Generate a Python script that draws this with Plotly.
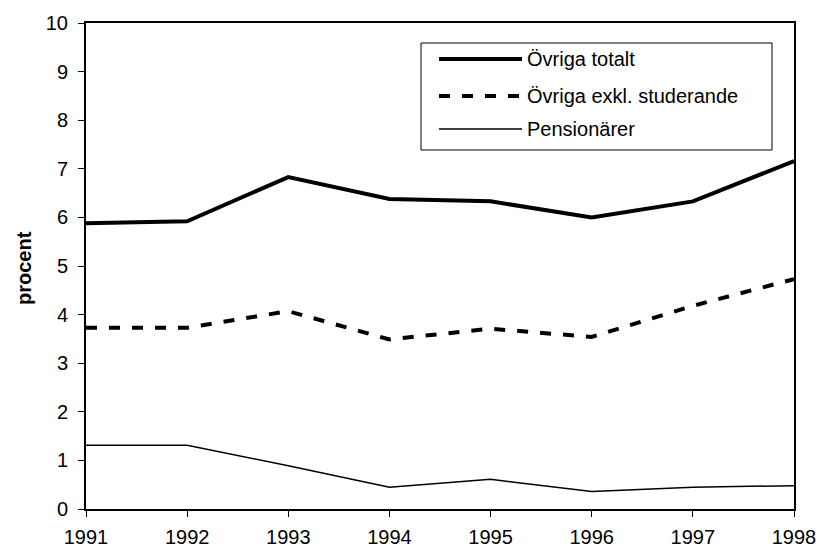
import plotly.graph_objects as go

years = [1991, 1992, 1993, 1994, 1995, 1996, 1997, 1998]
ovriga_totalt = [5.88, 5.92, 6.83, 6.38, 6.33, 6.00, 6.33, 7.16]
ovriga_exkl = [3.73, 3.73, 4.07, 3.49, 3.71, 3.54, 4.18, 4.73]
pensionarer = [1.31, 1.31, 0.89, 0.45, 0.61, 0.36, 0.45, 0.48]
y_ticks = list(range(0, 11))
series_names = ["Övriga totalt", "Övriga exkl. studerande", "Pensionärer"]

FONT = "Liberation Sans, Arial, sans-serif"
W, H = 820, 549
# target plot box in screen pixels: x 86..794, y 23..509
ML, MT = 86, 23
MR = W - 794
MB = H - 509
PW, PH = W - ML - MR, H - MT - MB


def px_x(px):
    return (px - ML) / PW


def px_y(py):
    return (H - MB - py) / PH


styles = [dict(color="black", width=4),
          dict(color="black", width=4, dash="11px,12px"),
          dict(color="black", width=1.5)]
values = [ovriga_totalt, ovriga_exkl, pensionarer]

fig = go.Figure()
for name, vals, st in zip(series_names, values, styles):
    fig.add_trace(go.Scatter(x=years, y=vals, mode="lines", name=name, line=st,
                             showlegend=False))

# custom legend (box, sample lines, labels)
legend_rows_y = [59, 96, 129]
shapes = [dict(type="rect", xref="paper", yref="paper",
               x0=px_x(421), x1=px_x(772), y0=px_y(43), y1=px_y(150),
               line=dict(color="black", width=1), fillcolor="white", layer="above")]
annotations = []
for name, st, ry in zip(series_names, styles, legend_rows_y):
    shapes.append(dict(type="line", xref="paper", yref="paper",
                       x0=px_x(439), x1=px_x(522), y0=px_y(ry), y1=px_y(ry),
                       line=st, layer="above"))
    annotations.append(dict(text=name, xref="paper", yref="paper",
                            x=px_x(525), y=px_y(ry), xanchor="left", yanchor="middle",
                            showarrow=False, font=dict(size=20, family=FONT, color="black")))
annotations.append(dict(text="<b>procent</b>", xref="paper", yref="paper",
                        x=px_x(23.5), y=px_y(267.5), xanchor="center", yanchor="middle",
                        textangle=-90, showarrow=False,
                        font=dict(size=20, family=FONT, color="black")))

fig.update_layout(
    width=W, height=H,
    margin=dict(l=ML, r=MR, t=MT, b=MB, autoexpand=False),
    paper_bgcolor="white", plot_bgcolor="white",
    font=dict(family=FONT, size=20, color="black"),
    showlegend=False,
    shapes=shapes,
    annotations=annotations,
)
fig.update_xaxes(range=[1991, 1998], tickvals=years, ticktext=[str(y) for y in years],
                 showgrid=False, zeroline=False, showline=True, linecolor="black",
                 linewidth=2, mirror=True, ticks="outside", ticklen=6, tickcolor="black",
                 tickwidth=1, automargin=False, ticklabelstandoff=3,
                 tickfont=dict(size=20))
fig.update_yaxes(range=[0, 10], tickvals=y_ticks, showgrid=False, zeroline=False,
                 showline=True, linecolor="black", linewidth=2, mirror=True,
                 ticks="outside", ticklen=6, tickcolor="black", tickwidth=1,
                 automargin=False, ticklabelstandoff=6)

fig.write_html(
    "out.html",
    config={"displayModeBar": False},
    post_script="document.body.style.margin='0';document.body.style.overflow='hidden';",
)
